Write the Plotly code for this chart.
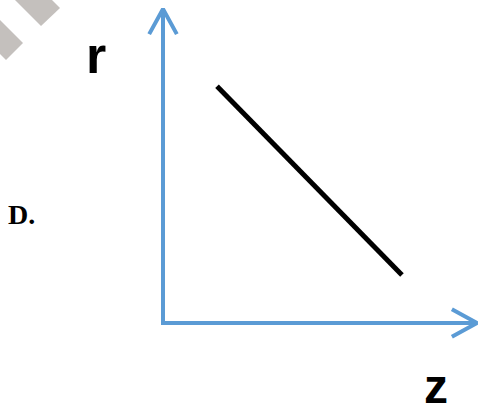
import plotly.graph_objects as go

# ---- schematic data (arbitrary units) ----
z_line = [1.72, 7.61]
r_line = [7.54, 1.53]
z_axis_max = 10.0
r_axis_max = 10.0
axis_titles = ["z", "r"]
panel_label = "D."

# ---- layout constants ----
W, H = 478, 404
ox, oy = 163, 323          # pixel location of the origin
scale = 31.4               # pixels per unit
head_len, head_half = 0.8, 0.44
blue = "#5b9bd5"


def px(x, y):
    """pixel -> data coordinates (for text/decoration placement)"""
    return (x - ox) / scale, (oy - y) / scale


fig = go.Figure()

# axes
fig.add_trace(go.Scatter(x=[0, 0, z_axis_max], y=[r_axis_max, 0, 0], mode="lines",
                         line=dict(color=blue, width=4), hoverinfo="skip"))
# arrow heads
fig.add_trace(go.Scatter(x=[-head_half, 0, head_half],
                         y=[r_axis_max - head_len, r_axis_max, r_axis_max - head_len],
                         mode="lines", line=dict(color=blue, width=4), hoverinfo="skip"))
fig.add_trace(go.Scatter(x=[z_axis_max - head_len, z_axis_max, z_axis_max - head_len],
                         y=[head_half, 0, -head_half],
                         mode="lines", line=dict(color=blue, width=4), hoverinfo="skip"))
# the relation line
fig.add_trace(go.Scatter(x=z_line, y=r_line, mode="lines",
                         line=dict(color="black", width=5), hoverinfo="skip"))

# watermark fragments (decoration)
def poly(points):
    pts = [px(*p) for p in points]
    return "M " + " L ".join(f"{a:.3f},{b:.3f}" for a, b in pts) + " Z"

for pts in ([(15, 0), (52, 0), (60, 8), (41, 26)],
            [(0, 20), (23, 43), (6, 60), (0, 54)]):
    fig.add_shape(type="path", path=poly(pts), xref="x", yref="y",
                  fillcolor="#c4c0bd", line=dict(width=0), layer="below")

rx, ry = px(96, 55)
zx, zy = px(436, 386)
dx, dy = px(21, 214)
fig.add_annotation(x=rx, y=ry, text=axis_titles[1], showarrow=False,
                   font=dict(family="Liberation Sans", size=52, color="black"),
                   xanchor="center", yanchor="middle")
fig.add_annotation(x=zx, y=zy, text=axis_titles[0], showarrow=False,
                   font=dict(family="Liberation Sans", size=48, color="black"),
                   xanchor="center", yanchor="middle")
fig.add_annotation(x=dx, y=dy, text=panel_label, showarrow=False,
                   font=dict(family="Liberation Serif", size=28, color="black"),
                   xanchor="center", yanchor="middle")

fig.update_layout(
    width=W, height=H, margin=dict(l=0, r=0, t=0, b=0),
    paper_bgcolor="white", plot_bgcolor="white", showlegend=False,
    xaxis=dict(range=[-ox / scale, (W - ox) / scale], visible=False, fixedrange=True),
    yaxis=dict(range=[-(H - oy) / scale, oy / scale], visible=False, fixedrange=True),
)
# make the labels bold
for a in fig.layout.annotations:
    a.text = f"<b>{a.text}</b>"

fig.write_html("out.html", config={"displayModeBar": False},
               post_script="document.body.style.margin='0';document.body.style.overflow='hidden';")
